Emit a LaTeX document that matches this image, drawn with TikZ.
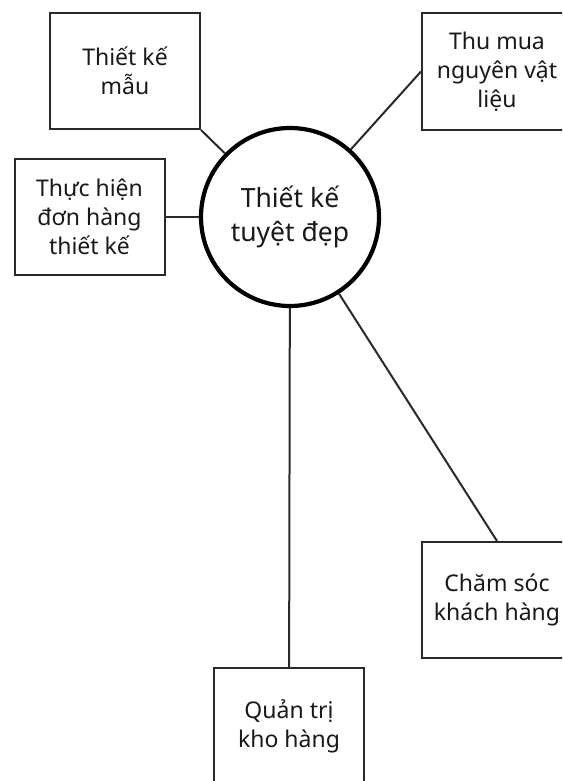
\documentclass[tikz,border=0pt]{standalone}
\usepackage{fontspec}
\setmainfont{Noto Sans}
\usetikzlibrary{positioning}
\definecolor{khung}{HTML}{2A2A2A}

\begin{document}
\begin{tikzpicture}[x=1pt,y=-1pt,
		hop/.style={draw=khung, line width=2pt, minimum width=150pt, minimum height=116pt, align=center, text=black!90, font=\fontsize{23}{29}\selectfont},
		noi/.style={khung, line width=2pt}]
			\useasboundingbox[fill=white] (0,0) rectangle (562,781);
			\clip (0,0) rectangle (562,781);
			\node[circle, draw, line width=4.2pt, minimum size=178pt, align=center, text=black!90, font=\fontsize{26.5}{34}\selectfont] (tam) at (290,217) {Thiết kế\\tuyệt đẹp};
			\node[hop] (mau) at (125,71) {Thiết kế\\mẫu};
			\node[hop] (muasam) at (497,71.5) {Thu mua\\nguyên vật\\liệu};
			\node[hop] (donhang) at (89.5,217) {Thực hiện\\đơn hàng\\thiết kế};
			\node[hop] (khach) at (497,600) {Chăm sóc\\khách hàng};
			\node[hop] (kho) at (289,726) {Quản trị\\kho hàng};
%			nhanh noi vao tam
			\draw[noi] (mau.south east) -- (tam);
			\draw[noi] (tam) -- (muasam.west);
			\draw[noi] (donhang) -- (tam);
			\draw[noi] (tam) -- (khach.north);
			\draw[noi] (tam) -- (kho);
		\end{tikzpicture}
\end{document}
